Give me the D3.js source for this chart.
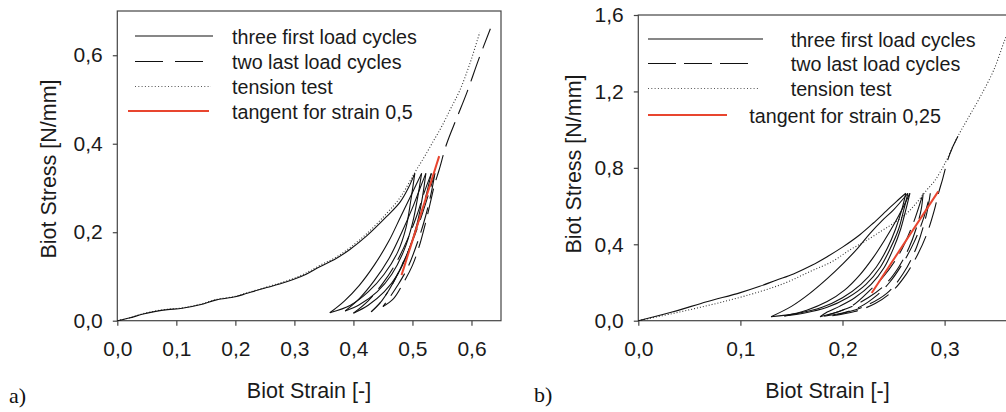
<!DOCTYPE html>
<html>
<head>
<meta charset="utf-8">
<script src="https://cdnjs.cloudflare.com/ajax/libs/d3/7.8.5/d3.min.js"></script>
<style>
  body { margin: 0; background: #fff; }
  svg { display: block; }
</style>
</head>
<body>
<script>
var w = 1006,
    h = 412;

// ---- panel a) data, [strain, stress] ----
var aTicksX = [0, 0.1, 0.2, 0.3, 0.4, 0.5, 0.6];
var aTicksY = [0, 0.2, 0.4, 0.6];

var aTension = [[0,0],[0.02,0.006],[0.044,0.016],[0.065,0.022],[0.085,0.026],[0.11,0.029],
                [0.14,0.037],[0.168,0.048],[0.2,0.055],[0.22,0.063],[0.253,0.076],[0.275,0.085],
                [0.298,0.095],[0.32,0.108],[0.343,0.125],[0.37,0.143],[0.394,0.165],[0.422,0.196],
                [0.456,0.242],[0.48,0.28],[0.504,0.335],[0.52,0.37],[0.535,0.405],[0.55,0.44],
                [0.565,0.48],[0.58,0.52],[0.597,0.58],[0.614,0.652]];

var aFirstCycles = [
  [[0,0],[0.02,0.006],[0.044,0.015],[0.065,0.021],[0.085,0.025],[0.11,0.028],[0.14,0.036],
   [0.168,0.047],[0.2,0.054],[0.22,0.062],[0.253,0.075],[0.275,0.083],[0.298,0.093],
   [0.32,0.105],[0.343,0.122],[0.37,0.14],[0.394,0.161],[0.422,0.191],[0.456,0.235],
   [0.479,0.268],[0.493,0.3],[0.504,0.333]],
  [[0.504,0.333],[0.497,0.27],[0.489,0.21],[0.475,0.155],[0.452,0.105],[0.425,0.065],[0.395,0.035],[0.36,0.018]],
  [[0.36,0.018],[0.385,0.045],[0.41,0.08],[0.435,0.125],[0.46,0.18],[0.48,0.235],[0.5,0.29],[0.5155,0.333]],
  [[0.5155,0.333],[0.509,0.28],[0.5,0.22],[0.486,0.16],[0.465,0.105],[0.44,0.065],[0.41,0.036],[0.386,0.022]],
  [[0.386,0.022],[0.41,0.05],[0.435,0.09],[0.46,0.14],[0.482,0.2],[0.5,0.255],[0.513,0.3],[0.5227,0.333]],
  [[0.5227,0.333],[0.517,0.28],[0.508,0.22],[0.494,0.16],[0.475,0.105],[0.452,0.065],[0.425,0.035],[0.40,0.017]]
];

var aLastCycles = [
  [[0.40,0.017],[0.425,0.045],[0.45,0.085],[0.472,0.13],[0.492,0.185],[0.508,0.24],[0.52,0.29],[0.532,0.333]],
  [[0.532,0.333],[0.524,0.288],[0.513,0.235],[0.496,0.167],[0.478,0.114],[0.46,0.069],[0.445,0.04],[0.43,0.02]],
  [[0.43,0.02],[0.448,0.045],[0.465,0.08],[0.482,0.125],[0.5,0.18],[0.515,0.235],[0.527,0.285],[0.538,0.333]],
  [[0.538,0.333],[0.532,0.29],[0.522,0.235],[0.508,0.175],[0.492,0.12],[0.475,0.08],[0.46,0.05],[0.45,0.032]],
  [[0.45,0.032],[0.468,0.05],[0.484,0.084],[0.5,0.125],[0.513,0.175],[0.522,0.22],[0.53,0.265],
   [0.538,0.31],[0.545,0.34],[0.558,0.4],[0.575,0.458],[0.592,0.515],[0.612,0.59],[0.632,0.66]]
];

var aTangent = [[0.4815,0.103],[0.5453,0.372]];
var aLegend = ['three first load cycles', 'two last load cycles', 'tension test', 'tangent for strain 0,5'];

// ---- panel b) data ----
var bTicksX = [0, 0.1, 0.2, 0.3];
var bTicksY = [0, 0.4, 0.8, 1.2, 1.6];

var bTension = [[0,0],[0.04,0.045],[0.08,0.095],[0.119,0.152],[0.145,0.2],[0.168,0.257],[0.19,0.31],
                [0.207,0.37],[0.222,0.415],[0.237,0.466],[0.25,0.51],[0.263,0.562],[0.273,0.62],
                [0.2825,0.684],[0.29,0.73],[0.3,0.82],[0.312,0.955],[0.323,1.06],[0.335,1.173],
                [0.348,1.31],[0.359,1.47],[0.366,1.56]];

var bFirstCycles = [
  [[0,0],[0.034,0.047],[0.067,0.099],[0.1,0.147],[0.119,0.18],[0.135,0.212],[0.152,0.245],
   [0.17,0.29],[0.185,0.335],[0.2,0.385],[0.217,0.45],[0.23,0.51],[0.243,0.575],[0.253,0.625],[0.262,0.667]],
  [[0.262,0.667],[0.258,0.58],[0.252,0.48],[0.244,0.38],[0.233,0.28],[0.218,0.19],[0.2,0.12],[0.18,0.07],[0.155,0.037],[0.13,0.021]],
  [[0.13,0.021],[0.15,0.075],[0.168,0.143],[0.185,0.22],[0.2008,0.3],[0.215,0.38],[0.227,0.457],[0.24,0.53],[0.25,0.58],[0.264,0.667]],
  [[0.264,0.667],[0.26,0.58],[0.255,0.48],[0.247,0.38],[0.237,0.28],[0.223,0.19],[0.205,0.12],[0.185,0.07],[0.163,0.04],[0.143,0.025]],
  [[0.143,0.025],[0.165,0.055],[0.185,0.1],[0.202,0.16],[0.217,0.24],[0.23,0.33],[0.241,0.42],[0.251,0.51],[0.259,0.59],[0.266,0.667]],
  [[0.266,0.667],[0.262,0.58],[0.257,0.48],[0.25,0.38],[0.241,0.28],[0.228,0.19],[0.212,0.12],[0.197,0.075],[0.185,0.045],[0.178,0.021]]
];

var bLastCycles = [
  [[0.178,0.021],[0.195,0.045],[0.21,0.08],[0.227,0.16],[0.24,0.23],[0.256,0.353],[0.2693,0.51],[0.279,0.667]],
  [[0.279,0.667],[0.277,0.58],[0.272,0.48],[0.265,0.38],[0.255,0.28],[0.242,0.19],[0.225,0.12],[0.205,0.065],[0.182,0.024]],
  [[0.182,0.024],[0.2,0.04],[0.218,0.075],[0.233,0.13],[0.246,0.2],[0.259,0.3],[0.27,0.41],[0.279,0.53],[0.286,0.667]],
  [[0.286,0.667],[0.2825,0.562],[0.2727,0.387],[0.2596,0.248],[0.2433,0.143],[0.217,0.065],[0.19,0.026]],
  [[0.19,0.026],[0.212,0.048],[0.232,0.09],[0.248,0.15],[0.262,0.24],[0.274,0.35],[0.283,0.46],
   [0.29,0.58],[0.294,0.667],[0.298,0.74],[0.303,0.84],[0.308,0.91],[0.314,0.975]]
];

var bTangent = [[0.2286,0.145],[0.2938,0.677]];
var bLegend = ['three first load cycles', 'two last load cycles', 'tension test', 'tangent for strain 0,25'];

var sans = 'Liberation Sans, Arial, sans-serif';
var red = '#e8452f';

// comma as decimal separator
var fmt = d3.formatLocale({decimal: ',', thousands: '.', grouping: [3], currency: ['', '']})
            .format('.1f');

var svg = d3.select('body')
            .append('svg')
            .attr('width', w)
            .attr('height', h);

var drawPanel = function(p) {
  var x = d3.scaleLinear().domain(p.xDomain).range([p.left, p.right]);
  var y = d3.scaleLinear().domain(p.yDomain).range([p.bottom, p.top]);

  var line = d3.line()
               .x(function(d) { return x(d[0]); })
               .y(function(d) { return y(d[1]); })
               .curve(d3.curveCatmullRom.alpha(0.5));

  var g = svg.append('g');

  // frame
  g.append('rect')
   .attr('x', p.left)
   .attr('y', p.top)
   .attr('width', p.right - p.left)
   .attr('height', p.bottom - p.top)
   .attr('fill', 'none')
   .attr('stroke', '#444')
   .attr('stroke-width', 1.2);

  // axes
  var xAxis = g.append('g')
               .attr('transform', 'translate(0,' + p.bottom + ')')
               .call(d3.axisBottom(x).tickValues(p.ticksX).tickSize(5).tickPadding(15).tickFormat(fmt));
  var yAxis = g.append('g')
               .attr('transform', 'translate(' + p.left + ',0)')
               .call(d3.axisLeft(y).tickValues(p.ticksY).tickSize(4.5).tickPadding(10).tickFormat(fmt));

  [xAxis, yAxis].forEach(function(a) {
    a.attr('font-size', 21).attr('font-family', sans);
    a.select('.domain').remove();
    a.selectAll('line').attr('stroke', '#444').attr('stroke-width', 1.2);
    a.selectAll('text')
     .style('font-size', '21px')
     .style('font-family', sans)
     .attr('fill', '#1a1a1a');
  });

  // tension test (dotted)
  g.append('path')
   .attr('d', line(p.tension))
   .attr('fill', 'none')
   .attr('stroke', '#333')
   .attr('stroke-width', 1.1)
   .attr('stroke-dasharray', '1,2');

  // three first cycles
  g.selectAll('path.first')
   .data(p.first)
   .enter()
   .append('path')
   .attr('class', 'first')
   .attr('d', line)
   .attr('fill', 'none')
   .attr('stroke', '#111')
   .attr('stroke-width', 1.1);

  // two last cycles
  g.selectAll('path.last')
   .data(p.last)
   .enter()
   .append('path')
   .attr('class', 'last')
   .attr('d', line)
   .attr('fill', 'none')
   .attr('stroke', '#111')
   .attr('stroke-width', 1.1)
   .attr('stroke-dasharray', '26,9');

  // tangent
  g.append('path')
   .attr('d', d3.line().x(function(d) { return x(d[0]); }).y(function(d) { return y(d[1]); })(p.tangent))
   .attr('stroke', red)
   .attr('stroke-width', 2);

  // legend
  var styles = [
    {stroke: '#111', width: 1.1, dash: null},
    {stroke: '#111', width: 1.1, dash: p.legendDash},
    {stroke: '#555', width: 1.1, dash: '1,2.3'},
    {stroke: red, width: 2, dash: null}
  ];
  p.legend.forEach(function(label, i) {
    var r = p.legendRows[i];
    g.append('line')
     .attr('x1', r.x1).attr('x2', r.x2)
     .attr('y1', r.y).attr('y2', r.y)
     .attr('stroke', styles[i].stroke)
     .attr('stroke-width', styles[i].width)
     .attr('stroke-dasharray', styles[i].dash);
    g.append('text')
     .attr('x', r.tx)
     .attr('y', r.y + 7.5)
     .attr('font-family', sans)
     .attr('font-size', 19.7)
     .attr('fill', '#1a1a1a')
     .text(label);
  });

  // axis titles
  g.append('text')
   .attr('transform', 'translate(' + p.yTitle[0] + ',' + p.yTitle[1] + ') rotate(-90)')
   .attr('text-anchor', 'middle')
   .attr('dy', '0.35em')
   .attr('font-family', sans)
   .attr('font-size', 21.5)
   .attr('fill', '#1a1a1a')
   .text('Biot Stress [N/mm]');

  g.append('text')
   .attr('x', p.xTitle[0])
   .attr('y', p.xTitle[1])
   .attr('text-anchor', 'middle')
   .attr('font-family', sans)
   .attr('font-size', 21.5)
   .attr('fill', '#1a1a1a')
   .text('Biot Strain [-]');

  // panel letter
  g.append('text')
   .attr('x', p.letter[0])
   .attr('y', p.letter[1])
   .attr('font-family', 'Liberation Serif, Times New Roman, serif')
   .attr('font-size', 22)
   .attr('fill', '#111')
   .text(p.letterText);
};

drawPanel({
  left: 117.3, right: 501, top: 11, bottom: 320.7,
  xDomain: [0, 0.65], yDomain: [0, 0.7],
  ticksX: aTicksX, ticksY: aTicksY,
  tension: aTension, first: aFirstCycles, last: aLastCycles, tangent: aTangent,
  legend: aLegend, legendDash: '28,12',
  legendRows: [
    {x1: 135, x2: 213, y: 36, tx: 232},
    {x1: 135, x2: 203, y: 61.5, tx: 232},
    {x1: 135, x2: 211, y: 86.5, tx: 232},
    {x1: 128, x2: 209, y: 111, tx: 232}
  ],
  yTitle: [48, 169], xTitle: [309, 398],
  letter: [9, 403], letterText: 'a)'
});

drawPanel({
  left: 638.3, right: 1046.7, top: 15, bottom: 320.7,
  xDomain: [0, 0.4], yDomain: [0, 1.6],
  ticksX: bTicksX, ticksY: bTicksY,
  tension: bTension, first: bFirstCycles, last: bLastCycles, tangent: bTangent,
  legend: bLegend, legendDash: '28,8',
  legendRows: [
    {x1: 648, x2: 763, y: 39, tx: 790.7},
    {x1: 648, x2: 755, y: 63.5, tx: 790.7},
    {x1: 648, x2: 758, y: 88.5, tx: 790.7},
    {x1: 648, x2: 727, y: 115, tx: 749.3}
  ],
  yTitle: [573, 164], xTitle: [827.5, 398],
  letter: [534, 402], letterText: 'b)'
});
</script>
</body>
</html>
